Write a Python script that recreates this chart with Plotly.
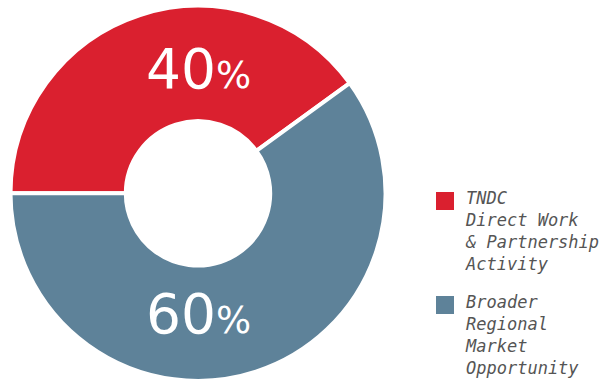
import plotly.graph_objects as go

# Share of opportunity
categories = ["TNDC<br>Direct Work<br>& Partnership<br>Activity",
              "Broader<br>Regional<br>Market<br>Opportunity"]
shares = [40, 60]
colors = ["#DA202F", "#5E8299"]

W, H = 609, 381

fig = go.Figure()
fig.add_trace(go.Pie(
    values=shares,
    labels=categories,
    sort=False,
    direction="clockwise",
    rotation=-90,
    hole=0.385,
    marker=dict(colors=colors, line=dict(color="white", width=4)),
    textinfo="none",
    hoverinfo="skip",
    showlegend=False,
    domain=dict(x=[10.5 / W, 385.5 / W], y=[0, 0.985]),
))

# Percentage labels on the ring
label_pos = [(198, 69), (198, 314)]
for val, (px, py) in zip(shares, label_pos):
    fig.add_annotation(
        x=px / W, y=1 - py / H, xref="paper", yref="paper",
        xanchor="center", yanchor="middle", showarrow=False,
        text=f"{val}<span style='font-size:37px'>%</span>",
        font=dict(family="DejaVu Sans", size=55, color="white"),
    )

# Legend: swatches and wrapped labels
legend_tops = [192, 296]
for name, col, top in zip(categories, colors, legend_tops):
    fig.add_shape(
        type="rect", xref="paper", yref="paper",
        x0=436 / W, x1=454 / W, y0=1 - (top + 18) / H, y1=1 - top / H,
        fillcolor=col, line=dict(width=0),
    )
    fig.add_annotation(
        x=463 / W, y=1 - (top - 6) / H, xref="paper", yref="paper",
        xanchor="left", yanchor="top", align="left", showarrow=False,
        text=name,
        font=dict(family="DejaVu Sans Mono", size=17, color="#555555", style="italic"),
    )

fig.update_layout(
    width=W, height=H,
    margin=dict(l=0, r=0, t=0, b=0),
    paper_bgcolor="white", plot_bgcolor="white",
)

fig.write_html("out.html")
